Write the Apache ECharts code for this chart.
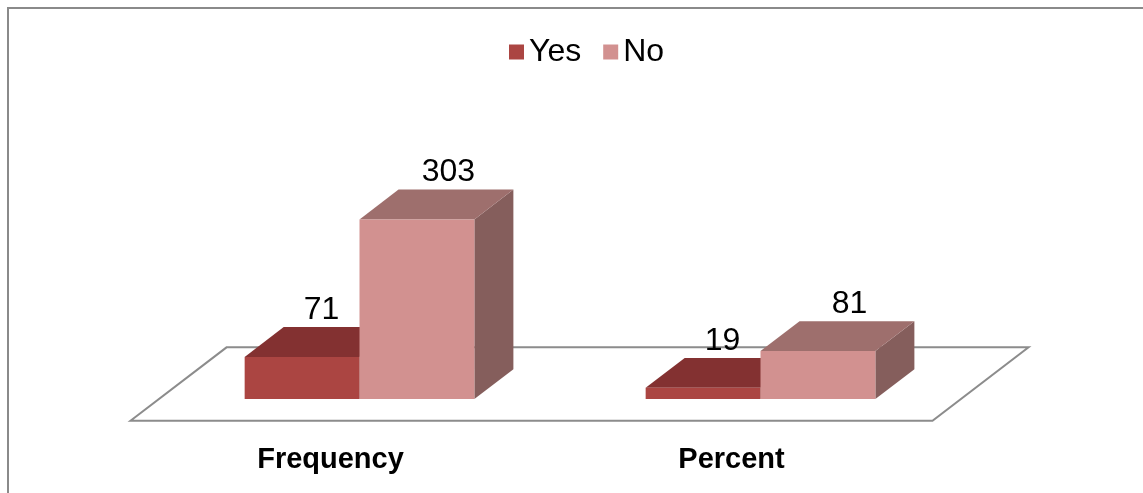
<!DOCTYPE html>
<html>
<head>
<meta charset="utf-8">
<script src="https://cdn.jsdelivr.net/npm/echarts@6/dist/echarts.min.js"></script>
<style>
  html, body { margin: 0; padding: 0; background: #fff; }
  #chart { width: 1143px; height: 493px; }
</style>
</head>
<body>
<div id="chart"></div>
<script>
  // data
  const categories = ['Frequency', 'Percent']
  const yesValues = [71, 19]
  const noValues = [303, 81]

  // face colours: front, top, side
  const yesColors = ['#ab4542', '#833131', '#6e2a28']
  const noColors = ['#d29190', '#9e6f6d', '#855e5c']

  const BAR_RATIO = 0.2864 // bar width as share of the category band
  const DEPTH_X = 0.34 // depth offset relative to bar width
  const DEPTH_Y = -0.26
  const FONT = '"Liberation Sans", Arial, sans-serif'

  function boxItem (colors, side) {
    return function (params, api) {
      const cat = api.value(0)
      const val = api.value(1)
      const base = api.coord([cat, 0])
      const top = api.coord([cat, val])
      const w = api.size([1, 0])[0] * BAR_RATIO
      const dx = w * DEPTH_X
      const dy = w * DEPTH_Y
      const x0 = side < 0 ? base[0] - w : base[0]
      const x1 = x0 + w
      const yb = base[1]
      const yt = top[1]
      return {
        type: 'group',
        children: [
          {
            type: 'polygon',
            shape: { points: [[x1, yt], [x1 + dx, yt + dy], [x1 + dx, yb + dy], [x1, yb]] },
            style: { fill: colors[2] }
          },
          {
            type: 'polygon',
            shape: { points: [[x0, yt], [x0 + dx, yt + dy], [x1 + dx, yt + dy], [x1, yt]] },
            style: { fill: colors[1] }
          },
          {
            type: 'rect',
            shape: { x: x0, y: yt, width: w, height: yb - yt },
            style: { fill: colors[0] }
          },
          {
            type: 'text',
            style: {
              text: String(val),
              x: x0 + w / 2 + dx / 2 + (side > 0 ? 12 : 0),
              y: yt + dy - 1,
              align: 'center',
              verticalAlign: 'bottom',
              fill: '#000',
              font: '32px ' + FONT
            }
          }
        ]
      }
    }
  }

  function floorItem (params, api) {
    const cs = params.coordSys
    const w = api.size([1, 0])[0] * BAR_RATIO
    const dx = w * DEPTH_X
    const dy = w * DEPTH_Y
    const yb = cs.y + cs.height
    const xl = cs.x
    const xr = cs.x + cs.width
    const f = -0.73
    const b = 1.73
    return {
      type: 'polygon',
      shape: {
        points: [
          [xl + f * dx, yb + f * dy],
          [xl + b * dx, yb + b * dy],
          [xr + b * dx, yb + b * dy],
          [xr + f * dx, yb + f * dy]
        ]
      },
      style: { fill: '#fff', stroke: '#8c8c8c', lineWidth: 2 }
    }
  }

  const chart = echarts.init(document.getElementById('chart'))
  chart.setOption({
    backgroundColor: '#fff',
    animation: false,
    graphic: [{
      type: 'rect',
      shape: { x: 8, y: 8, width: 1300, height: 700 },
      style: { fill: 'none', stroke: '#8a8a8a', lineWidth: 2 },
      z: 100
    }],
    legend: {
      data: ['Yes', 'No'],
      left: 504,
      top: 31,
      icon: 'rect',
      itemWidth: 15,
      itemHeight: 15,
      itemGap: 22,
      textStyle: { fontSize: 32, fontFamily: FONT, color: '#000' }
    },
    grid: { left: 159, right: 182, top: 162, bottom: 94 },
    xAxis: {
      type: 'category',
      data: categories,
      axisLine: { show: false },
      axisTick: { show: false },
      axisLabel: {
        margin: 46,
        padding: [0, 58, 0, 0],
        fontSize: 29,
        fontWeight: 'bold',
        fontFamily: FONT,
        color: '#000'
      }
    },
    yAxis: {
      type: 'value',
      min: 0,
      max: 400,
      show: false,
      splitLine: { show: false }
    },
    series: [
      {
        name: 'floor',
        type: 'custom',
        renderItem: floorItem,
        data: [[0, 0]],
        silent: true,
        z: 1
      },
      {
        name: 'Yes',
        type: 'custom',
        renderItem: boxItem(yesColors, -1),
        itemStyle: { color: yesColors[0] },
        data: yesValues.map((v, i) => [i, v]),
        z: 2
      },
      {
        name: 'No',
        type: 'custom',
        renderItem: boxItem(noColors, 1),
        itemStyle: { color: noColors[0] },
        data: noValues.map((v, i) => [i, v]),
        z: 3
      }
    ]
  })
</script>
</body>
</html>
